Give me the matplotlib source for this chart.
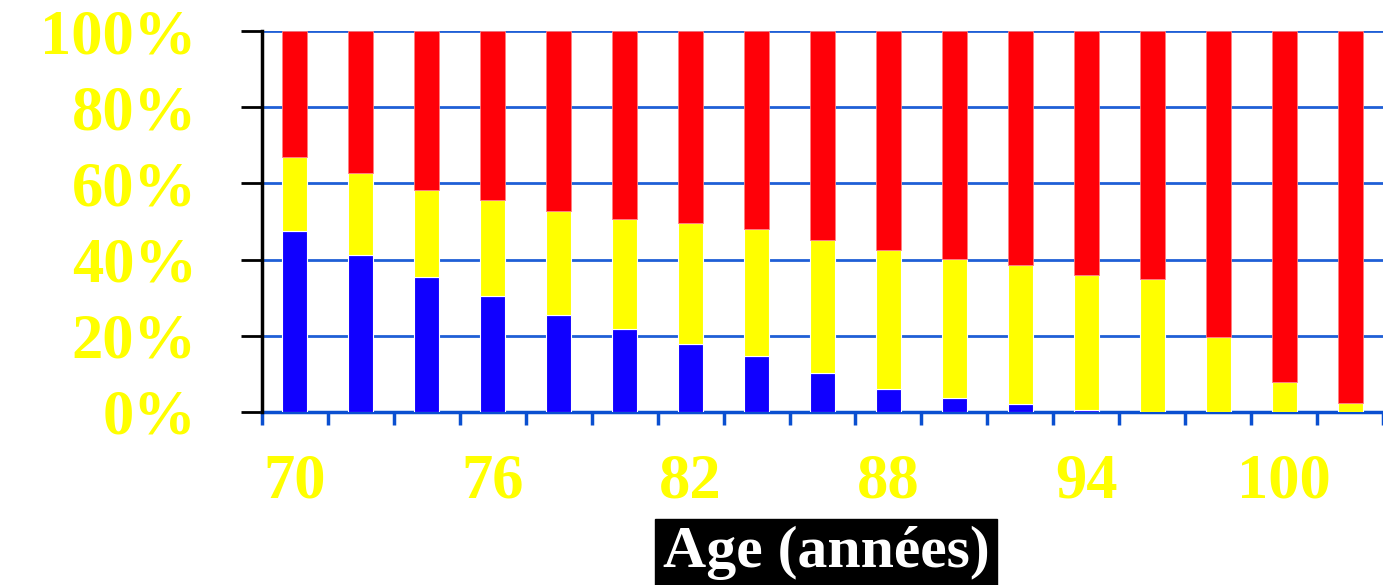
import numpy as np
import matplotlib.pyplot as plt

# ages (step 2) and share of each group in %
ages = [70, 72, 74, 76, 78, 80, 82, 84, 86, 88, 90, 92, 94, 96, 98, 100, 102]
blue = [47.5, 41.2, 35.4, 30.4, 25.5, 21.8, 17.8, 14.7, 10.2, 6.0, 3.8, 2.1, 0.5, 0, 0, 0, 0]
yellow = [19.5, 21.5, 22.9, 25.2, 27.3, 28.9, 31.8, 33.3, 34.9, 36.5, 36.4, 36.5, 35.5, 34.9, 19.7, 7.8, 2.4]
red = [33.0, 37.3, 41.7, 44.4, 47.2, 49.3, 50.4, 52.0, 54.9, 57.5, 59.8, 61.4, 64.0, 65.1, 80.3, 92.2, 97.6]

yticks = [0, 20, 40, 60, 80, 100]
ytick_labels = ['0%', '20%', '40%', '60%', '80%', '100%']
xlabel_every = 3

serif = ['Liberation Serif', 'DejaVu Serif']
gold = '#ffff00'
gridblue = '#1f5fd6'

fig = plt.figure(figsize=(13.83, 5.85), dpi=100)
ax = fig.add_axes([262 / 1383, 1 - 412 / 585, 1 - 262 / 1383, (412 - 31) / 585])

x = np.arange(len(ages))
b = np.array(blue)
yl = np.array(yellow)
r = np.array(red)
w = 0.38
ax.bar(x, b, w, color='#1000ff', edgecolor='white', linewidth=0.8, zorder=3)
ax.bar(x, yl, w, bottom=b, color='#ffff00', edgecolor='white', linewidth=0.8, zorder=3)
ax.bar(x, r, w, bottom=b + yl, color='#ff0008', edgecolor='#ff8080', linewidth=0.6, zorder=3)

ax.set_xlim(-0.5, len(ages) - 0.5)
ax.set_ylim(0, 100)

for yv in yticks[1:]:
    ax.axhline(yv, color=gridblue, linewidth=2, zorder=1)

ax.set_yticks(yticks)
ax.set_yticklabels(ytick_labels, fontfamily=serif, fontweight='bold', fontsize=45, color=gold)
ax.tick_params(axis='y', length=15, width=2, color='black', pad=32)

ax.set_xticks(x[::xlabel_every])
ax.set_xticklabels([str(a) for a in ages[::xlabel_every]], fontfamily=serif, fontweight='bold',
                   fontsize=45, color=gold)
ax.set_xticks(np.arange(-0.5, len(ages), 1), minor=True)
ax.tick_params(axis='x', which='major', length=0, pad=30)
ax.tick_params(axis='x', which='minor', length=9.5, width=2.5, color='#0a4fd0')

for s in ['top', 'right']:
    ax.spines[s].set_visible(False)
ax.spines['left'].set_color('black')
ax.spines['left'].set_linewidth(2.5)
ax.spines['left'].set_zorder(4)
ax.spines['bottom'].set_color('#0a4fd0')
ax.spines['bottom'].set_linewidth(2.5)

fig.text(826 / 1383, 1 - 553 / 585, 'Age (années)', ha='center', va='center', fontfamily=serif,
         fontweight='bold', fontsize=43, color='white',
         bbox=dict(boxstyle='square,pad=0.12', facecolor='black', edgecolor='black'))

fig.savefig('out.png', dpi=100, facecolor='white')
